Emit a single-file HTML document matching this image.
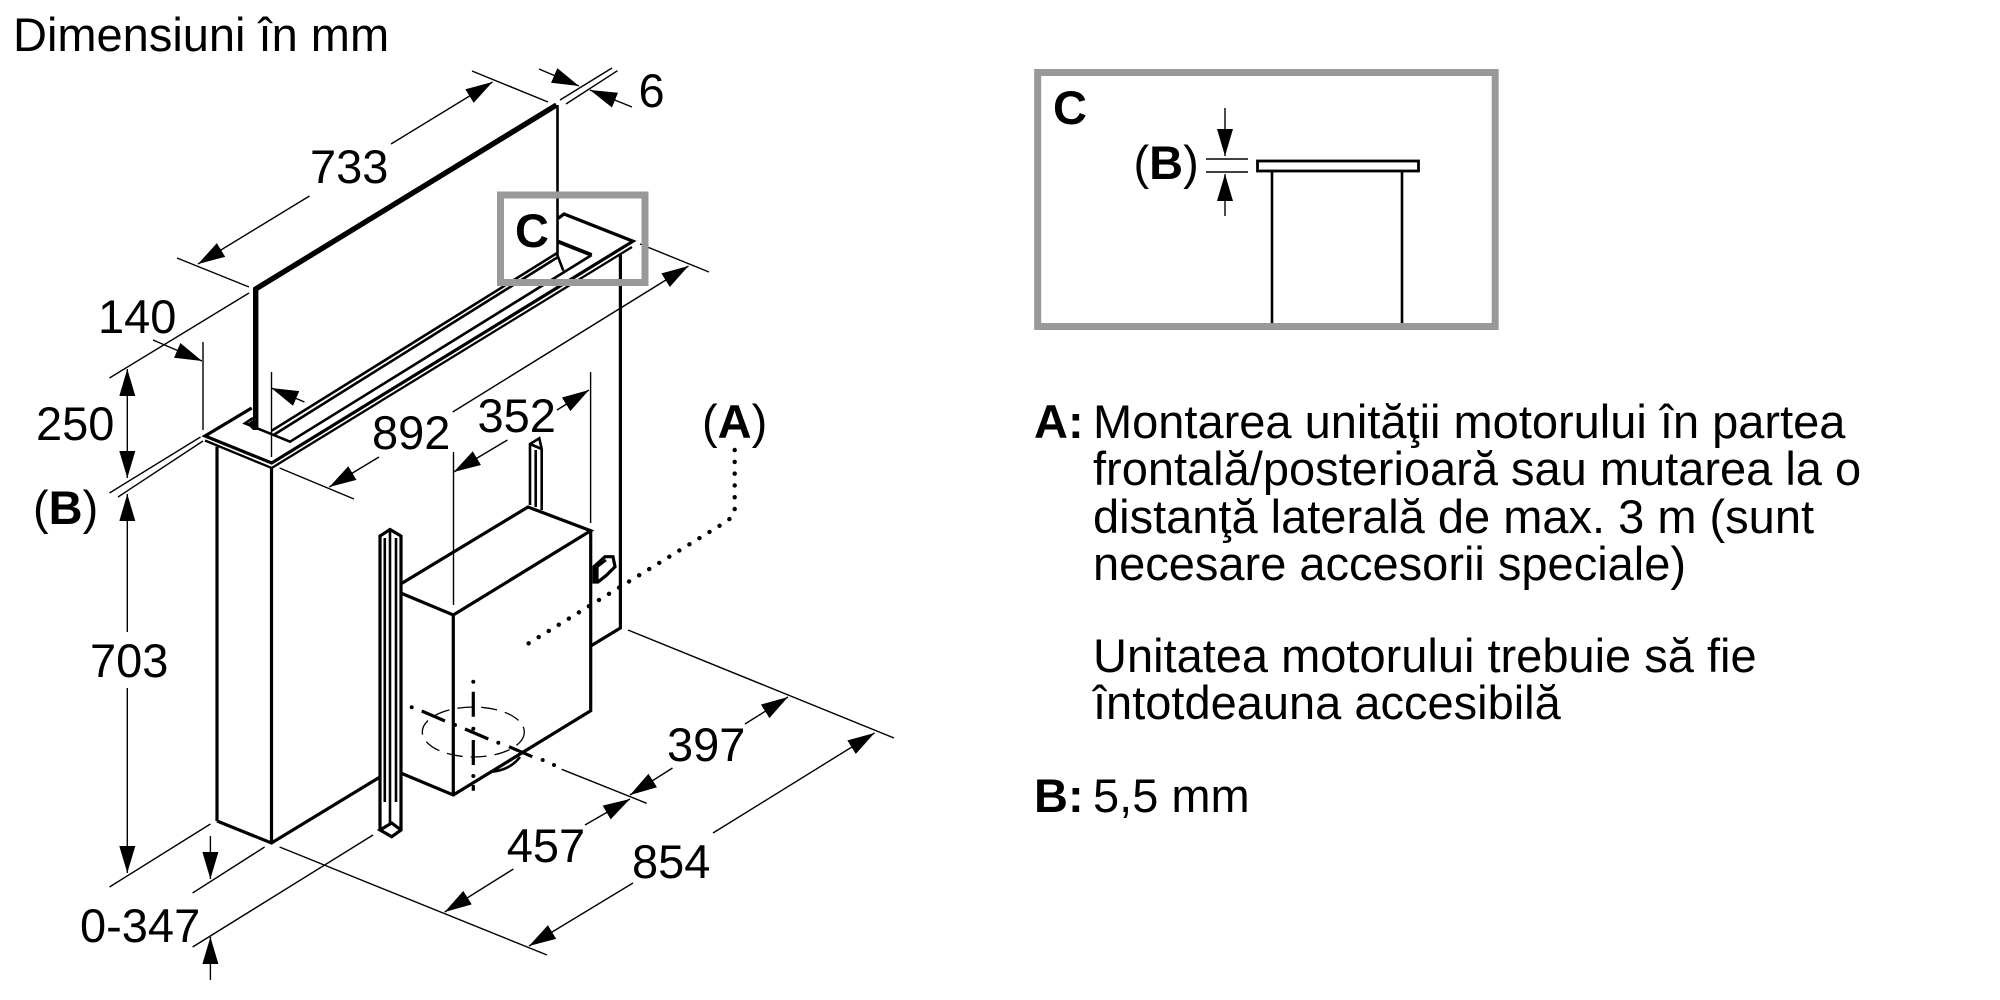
<!DOCTYPE html>
<html><head><meta charset="utf-8"><style>
html,body{margin:0;padding:0;background:#fff}
svg{display:block}
text{font-family:"Liberation Sans",sans-serif;font-size:47px;fill:#000}
.b{font-weight:bold}
.t{stroke:#000;stroke-width:1.4;fill:none}
.a{stroke:#000;stroke-width:1.4;fill:none;marker-end:url(#ah)}
.m{stroke:#000;stroke-width:2.6;fill:none;stroke-linejoin:miter}
.p{stroke:#000;stroke-width:2.3;fill:none;stroke-linejoin:miter}
.h{stroke:#000;stroke-width:5.4;fill:none}
.c{stroke:#000;stroke-width:3.2;fill:none}
</style></head><body>
<svg width="2000" height="1000" viewBox="0 0 2000 1000" xmlns="http://www.w3.org/2000/svg">
<defs><marker id="ah" markerUnits="userSpaceOnUse" markerWidth="30" markerHeight="18" refX="27" refY="8" orient="auto"><path d="M0,0L27,8L0,16Z" fill="#000"/></marker></defs>
<rect width="2000" height="1000" fill="#fff"/>

<text x="13" y="51">Dimensiuni în mm</text>

<!-- panel -->
<path class="h" d="M255.7,430V289L556.5,105"/>
<path class="m" d="M557.5,105V255"/>
<!-- plate -->
<path class="c" d="M251.7,408L205,436L271.7,463L633,241.2L564,214L558.3,218.3"/>
<path class="p" d="M205,440.5L271.7,468L632,247"/>
<path class="m" d="M253,418L245,423.3L290,441.7L591.7,255"/>
<path class="h" style="stroke-width:3.8" d="M591.7,255L558.3,241.7"/>
<path class="m" d="M271.7,430.7L556.7,253.3L563.3,270.7"/>
<path class="m" d="M273.5,435L558,257"/>
<path d="M247,424L253,420V430Z" fill="#000"/>
<!-- body -->
<path class="c" d="M217,446.7V821"/>
<path class="c" d="M271.5,467V843"/>
<path class="c" d="M217,821L271.5,843L380,777"/>
<path class="c" d="M620.4,255V628L590.7,646"/>
<!-- motor box -->
<path class="c" d="M400.7,584L528,507L590.7,530.7L453.3,615L400.7,593"/>
<path class="c" d="M590.7,530.7V710.7L453.3,795L400.7,773"/>
<path class="c" d="M453.3,615V795"/>
<!-- upper tube -->
<path class="m" d="M530,505V444L539.3,438.3L541.7,449V510M530,444L541.7,449M535.7,450V507"/>
<!-- rod -->
<path class="c" d="M380,830V536L390,529.5L401,536V830L391.7,836.7L380,830L391.7,823L401,830"/>
<path class="m" d="M384.8,538V802M396,538V802"/>
<path class="m" d="M390,530V823"/>
<!-- connector -->
<path class="c" d="M594,582V566.7L605,556.7H613L615,566.7L606.7,575L598,582Z"/>
<path class="m" d="M597,567L606,560"/>
<path class="c" d="M597,567V582"/>
<!-- hole -->
<ellipse cx="473.3" cy="732" rx="51" ry="25" fill="none" stroke="#000" stroke-width="1.3" stroke-dasharray="16 8"/>
<path class="c" d="M473.3,691.7V716.7M473.3,740V765M473.3,785V790.7"/>
<path class="c" d="M421.7,711L445,721M465,729L488.3,739M509,746.7L532.3,756.7"/>
<g fill="#000"><circle cx="473.3" cy="681.7" r="2"/><circle cx="473.3" cy="728.7" r="2"/><circle cx="473.3" cy="776" r="2"/><circle cx="411.7" cy="707.3" r="2"/><circle cx="455" cy="725" r="2"/><circle cx="498.3" cy="742.7" r="2"/><circle cx="542.7" cy="760" r="2"/><circle cx="554" cy="765" r="2"/></g>
<path class="m" d="M491.7,771.7Q510,770 520,757"/>
<!-- A leader -->
<path d="M734.7,450V510Q734,517 724,523L528.3,643.5" fill="none" stroke="#000" stroke-width="4.4" stroke-linecap="round" stroke-dasharray="0.1 11.7"/>

<!-- extension lines -->
<path class="t" d="M472,71L548,102M177,258L249,287M560,100L612,68M566,104L617.5,70.7"/>
<path class="t" d="M249,293L109.5,378M203,342V430M271.5,372V457"/>
<path class="t" d="M200.5,437L109.5,493M203,441L118,497"/>
<path class="t" d="M210.4,824L109.5,887M264.6,847L192.6,893M373,835L192.6,947"/>
<path class="t" d="M279.6,847L547,955M628,630L894,738M561.7,769.3L646.7,803.3"/>
<path class="t" d="M640,244L709,272M279.6,468L354,499"/>
<path class="t" d="M453.5,452V605M590.6,372V523"/>

<!-- arrows -->
<line class="a" x1="391" y1="144" x2="492.5" y2="82"/>
<line class="a" x1="309.5" y1="196" x2="198" y2="264"/>
<line class="a" x1="539" y1="69" x2="579" y2="86"/>
<line class="a" x1="632" y1="107" x2="590" y2="90"/>
<line class="a" x1="153" y1="340" x2="202" y2="361"/>
<line class="a" x1="304.5" y1="402" x2="271.3" y2="388"/>
<line class="a" x1="127.3" y1="424" x2="127.3" y2="369"/>
<line class="a" x1="127.3" y1="424" x2="127.3" y2="478"/>
<line class="a" x1="127.3" y1="632" x2="127.3" y2="494"/>
<line class="a" x1="127.3" y1="688" x2="127.3" y2="873"/>
<line class="a" x1="210.4" y1="836" x2="210.4" y2="879"/>
<line class="a" x1="210.4" y1="980" x2="210.4" y2="937"/>
<line class="a" x1="633" y1="883" x2="529" y2="946"/>
<line class="a" x1="713" y1="833" x2="874.5" y2="733"/>
<line class="a" x1="745" y1="724" x2="788" y2="697"/>
<line class="a" x1="672.5" y1="768" x2="630" y2="795"/>
<line class="a" x1="585" y1="825" x2="630" y2="799"/>
<line class="a" x1="513.4" y1="869" x2="444.7" y2="912"/>
<line class="a" x1="452.7" y1="412" x2="688.5" y2="266"/>
<line class="a" x1="379" y1="457" x2="329.3" y2="487"/>
<line class="a" x1="557" y1="410" x2="589" y2="390"/>
<line class="a" x1="507.4" y1="440" x2="453.7" y2="472"/>

<!-- left detail box -->
<rect x="500.5" y="195" width="144.5" height="87.5" fill="none" stroke="#999" stroke-width="7"/>
<text class="b" x="515" y="247">C</text>

<!-- dimension labels -->
<text x="310" y="183">733</text>
<text x="638.5" y="107">6</text>
<text x="98" y="333">140</text>
<text x="36" y="440">250</text>
<text x="33" y="524">(<tspan class="b">B</tspan>)</text>
<text x="90" y="677">703</text>
<text x="80" y="942">0-347</text>
<text x="667" y="761">397</text>
<text x="506.7" y="862">457</text>
<text x="632" y="878">854</text>
<text x="372" y="449">892</text>
<text x="477.5" y="432">352</text>
<text x="702" y="438">(<tspan class="b">A</tspan>)</text>

<!-- right detail box -->
<rect x="1037.7" y="72.5" width="457.5" height="254" fill="none" stroke="#999" stroke-width="7"/>
<text class="b" x="1053" y="124">C</text>
<rect x="1257.5" y="161" width="161" height="10" fill="none" stroke="#000" stroke-width="2.8"/>
<path class="m" d="M1272,172V323M1402,172V323"/>
<path class="t" d="M1206,159H1248M1206,172H1248"/>
<line class="a" x1="1225" y1="108" x2="1225" y2="156"/>
<line class="a" x1="1225" y1="216" x2="1225" y2="174"/>
<text x="1133.5" y="179">(<tspan class="b">B</tspan>)</text>

<!-- legend -->
<text class="b" x="1034" y="438">A:</text>
<text x="1093" y="438">Montarea unităţii motorului în partea</text>
<text x="1093" y="485">frontală/posterioară sau mutarea la o</text>
<text x="1093" y="533">distanţă laterală de max. 3 m (sunt</text>
<text x="1093" y="580">necesare accesorii speciale)</text>
<text x="1093" y="672">Unitatea motorului trebuie să fie</text>
<text x="1093" y="719">întotdeauna accesibilă</text>
<text class="b" x="1034" y="812">B:</text>
<text x="1093" y="812">5,5 mm</text>
</svg>
</body></html>
